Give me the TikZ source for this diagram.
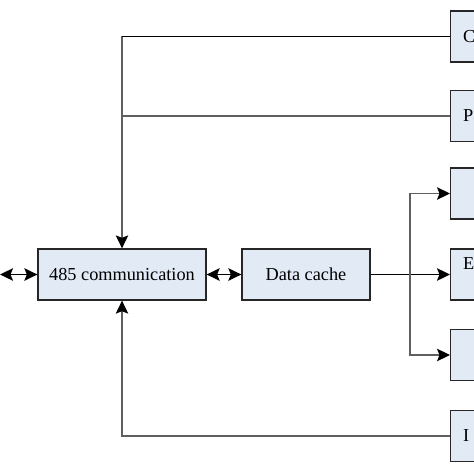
\documentclass[tikz,border=0pt]{standalone}
\usepackage{fontspec}
\setmainfont{Liberation Serif}
\usetikzlibrary{arrows.meta,positioning,calc}
\definecolor{boxfill}{RGB}{226,234,246}
\definecolor{linegray}{RGB}{95,95,95}

\begin{document}
\begin{tikzpicture}[
      x=0.02cm,y=-0.02cm,
      block/.style={draw=black!85, line width=0.75pt, fill=boxfill, minimum height=1.02cm, inner sep=0pt,
        font=\fontsize{10.4}{12.5}\selectfont},
      sidebox/.style={block, anchor=west, minimum width=2.4cm, text width=1.9cm, align=left, inner xsep=0.24cm},
      link/.style={draw=black, line width=0.8pt},
      thin/.style={draw=linegray, line width=0.6pt},
      tip/.style={-{Stealth[length=0.26cm,width=0.25cm,inset=0.05cm,black]}},
      twotip/.style={{Stealth[length=0.26cm,width=0.25cm,inset=0.05cm,black]}-{Stealth[length=0.26cm,width=0.25cm,inset=0.05cm,black]}}
    ]
      \useasboundingbox (0,0) rectangle (474,474);
      \clip (0,0) rectangle (474,474);
      % main chain
      \node[block, minimum width=3.36cm] (comm) at (122,274.5) {485 communication};
      \node[block, minimum width=2.56cm] (cache) at (306,274.5) {Data cache};
      \coordinate (ext) at (0,274.5);
      % right column, cut off by the edge
      \node[sidebox] (boxC) at (450,36.5) {C};
      \node[sidebox] (boxP) at (450,116) {Pa};
      \node[sidebox] (boxA) at (450,193.5) {};
      \node[sidebox] (boxE) at (450,274.5) {E\\\mbox{}};
      \node[sidebox] (boxB) at (450,355) {};
      \node[sidebox] (boxI) at (450,436) {I};
      \coordinate (fork) at (410,274.5);
      % connectors
      \draw[link, twotip] (ext) -- (comm.west);
      \draw[link, twotip] (comm.east) -- (cache.west);
      \draw[thin, tip] (boxC.west) -| (comm.north);
      \draw[link] (boxC.west) -- (boxC.west -| comm.north);
      \draw[thin] (boxP.west) -- (boxP.west -| comm.north);
      \draw[thin, tip] (boxI.west) -| (comm.south);
      \draw[link, line width=1pt, tip] (cache.east) -- (boxE.west);
      \draw[thin, tip] (fork) |- (boxA.west);
      \draw[thin, tip] (fork) |- (boxB.west);
    \end{tikzpicture}
\end{document}
